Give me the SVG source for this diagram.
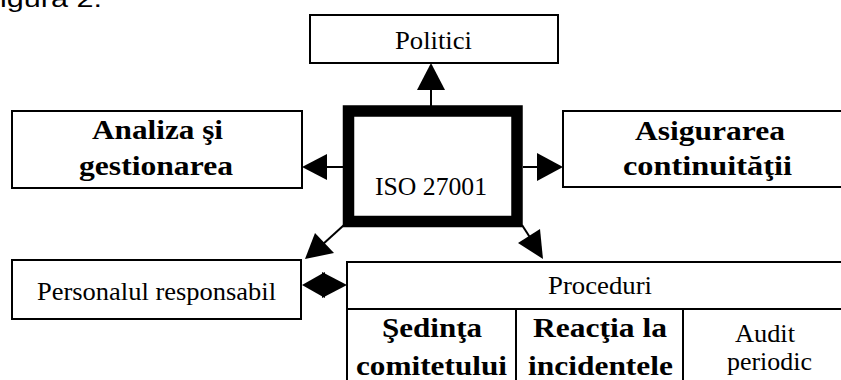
<svg xmlns="http://www.w3.org/2000/svg" width="841" height="380" viewBox="0 0 841 380">
<style>
.box{fill:#fff;stroke:#000;stroke-width:2}
.ln{stroke:#000;stroke-width:2;fill:none}
.hd{fill:#000;stroke:none}
.r{font-family:"Liberation Serif","Times New Roman",serif;font-size:25px;text-anchor:middle;fill:#000}
.b{font-family:"Liberation Serif","Times New Roman",serif;font-size:28px;font-weight:bold;text-anchor:middle;fill:#000}
</style>
<rect width="841" height="380" fill="#fff"/>
<text x="0" y="7" font-family="Liberation Sans, Arial, sans-serif" font-size="24" textLength="102" lengthAdjust="spacingAndGlyphs">igura 2.</text>

<g id="connectors">
  <line class="ln" x1="431" y1="106" x2="431" y2="88"/>
  <polygon class="hd" points="431,63 417,90 445,90"/>
  <line class="ln" x1="523" y1="167" x2="539" y2="167"/>
  <polygon class="hd" points="563,167 537,153 537,181"/>
  <line class="ln" x1="343" y1="167" x2="325" y2="167"/>
  <polygon class="hd" points="302,167 327,154 327,180"/>
  <line class="ln" x1="344" y1="225" x2="322" y2="245"/>
  <polygon class="hd" points="305,259 315,233 334,253"/>
  <line class="ln" x1="522" y1="225" x2="531" y2="239"/>
  <polygon class="hd" points="543,259 518,243 540,229"/>
  <line class="ln" x1="310" y1="285" x2="340" y2="285"/>
  <polygon class="hd" points="302,285 325,272 325,298"/>
  <polygon class="hd" points="347,285 322,272 322,298"/>
</g>

<g id="politici">
  <rect class="box" x="310" y="15" width="248" height="48"/>
  <text class="r" x="433.5" y="49" textLength="77" lengthAdjust="spacingAndGlyphs">Politici</text>
</g>

<g id="iso">
  <rect x="348.5" y="111" width="168.5" height="110.5" fill="#fff" stroke="#000" stroke-width="11.5"/>
  <text class="r" x="431" y="195" font-size="26" textLength="112" lengthAdjust="spacingAndGlyphs">ISO 27001</text>
</g>

<g id="analiza">
  <rect class="box" x="12" y="111" width="290" height="77"/>
  <text class="b" x="157.5" y="139" textLength="131" lengthAdjust="spacingAndGlyphs">Analiza şi</text>
  <text class="b" x="156" y="175" textLength="154" lengthAdjust="spacingAndGlyphs">gestionarea</text>
</g>

<g id="asigurarea">
  <rect class="box" x="563" y="111" width="290" height="76"/>
  <text class="b" x="710" y="140" textLength="150" lengthAdjust="spacingAndGlyphs">Asigurarea</text>
  <text class="b" x="707.5" y="175" textLength="169" lengthAdjust="spacingAndGlyphs">continuităţii</text>
</g>

<g id="personalul">
  <rect class="box" x="12" y="260" width="289" height="59"/>
  <text class="r" x="156.5" y="300" textLength="239" lengthAdjust="spacingAndGlyphs">Personalul responsabil</text>
</g>

<g id="proceduri">
  <rect class="box" x="347" y="262" width="510" height="130"/>
  <line class="ln" x1="347" y1="309" x2="857" y2="309"/>
  <line class="ln" x1="516" y1="309" x2="516" y2="392"/>
  <line class="ln" x1="683" y1="309" x2="683" y2="392"/>
  <text class="r" x="600" y="294" textLength="104" lengthAdjust="spacingAndGlyphs">Proceduri</text>
</g>

<g id="sedinta">
  <text class="b" x="432" y="337" textLength="100" lengthAdjust="spacingAndGlyphs">Şedinţa</text>
  <text class="b" x="431.5" y="375" textLength="151" lengthAdjust="spacingAndGlyphs">comitetului</text>
</g>

<g id="reactia">
  <text class="b" x="600" y="337" textLength="134" lengthAdjust="spacingAndGlyphs">Reacţia la</text>
  <text class="b" x="600.5" y="375" textLength="145" lengthAdjust="spacingAndGlyphs">incidentele</text>
</g>

<g id="audit">
  <text class="r" x="765" y="342" font-size="24" textLength="60" lengthAdjust="spacingAndGlyphs">Audit</text>
  <text class="r" x="769.5" y="370" font-size="24" textLength="85" lengthAdjust="spacingAndGlyphs">periodic</text>
</g>
</svg>
